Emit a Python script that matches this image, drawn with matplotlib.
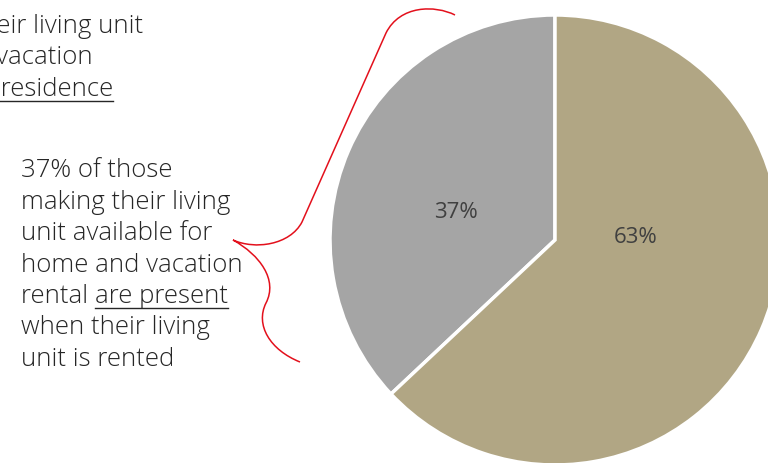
import matplotlib
matplotlib.use("Agg")
import matplotlib.pyplot as plt
from matplotlib.path import Path
from matplotlib.patches import PathPatch

# Share of hosts present / not present while their unit is rented
labels = ["37%", "63%"]
shares = [37, 63]
colors = ["#A5A5A5", "#B1A684"]

W, H = 768, 463
fig = plt.figure(figsize=(W / 100, H / 100), dpi=100)
ax = fig.add_axes([0, 0, 1, 1])

# Pie of radius 1 centred at the origin; 225 px per data unit
scale = 225.0
cx, cy = 555.0, 240.0
wedges, _ = ax.pie(shares, colors=colors, startangle=90, counterclock=True,
                   radius=1, wedgeprops=dict(edgecolor="white", linewidth=2.5))
ax.set_xlim(-cx / scale, (W - cx) / scale)
ax.set_ylim(-(H - cy) / scale, cy / scale)
ax.set_aspect("auto")
ax.axis("off")

# Percent labels inside the wedges
label_pos = [(-0.44, 0.12), (0.36, 0.01)]
for lab, (x, y) in zip(labels, label_pos):
    ax.text(x, y, lab, ha="center", va="center", fontsize=16,
            color="#404040", family="Open Sans", fontweight=400)

txt_kw = dict(fontsize=18.5, color="#262626", family="Open Sans",
              fontweight=300, va="baseline")


def px(x, y):
    return x / W, 1 - y / H


renderer = fig.canvas.get_renderer()


def underline(t, base):
    bb = t.get_window_extent(renderer)
    y = (H - base - 5) / H
    fig.add_artist(plt.Line2D([bb.x0 / W, bb.x1 / W], [y, y],
                              color="#262626", lw=1.0))


# Upper note (runs off the left edge)
fig.text(*px(143, 33), "making their living unit", ha="right", **txt_kw)
fig.text(*px(93, 64.5), "home and vacation", ha="right", **txt_kw)
t = fig.text(*px(113, 96), " residence", ha="right", **txt_kw)
fig.text(t.get_window_extent(renderer).x0 / W, 1 - 96 / H,
         "rental are absent from their", ha="right", **txt_kw)
underline(t, 96)

# Lower note
body = ["37% of those", "making their living", "unit available for",
        "home and vacation", None, "when their living", "unit is rented"]
x0, y0, dy = 21, 177, 31.5
for i, line in enumerate(body):
    if line is not None:
        fig.text(*px(x0, y0 + dy * i), line, ha="left", **txt_kw)
t1 = fig.text(*px(x0, y0 + dy * 4), "rental ", ha="left", **txt_kw)
w1 = t1.get_window_extent(renderer).width
t2 = fig.text(*px(x0 + w1, y0 + dy * 4), "are present", ha="left", **txt_kw)
underline(t2, y0 + dy * 4)

# Red curly brace linking the note to the grey wedge
pts = [(455, 15), (435, 5), (400, 5), (386, 33),
       (302, 222),
       (290, 245), (255, 250), (233, 240),
       (260, 255), (278, 280), (266, 303),
       (255, 325), (270, 350), (300, 362)]
codes = [Path.MOVETO, Path.CURVE4, Path.CURVE4, Path.CURVE4,
         Path.LINETO,
         Path.CURVE4, Path.CURVE4, Path.CURVE4,
         Path.CURVE4, Path.CURVE4, Path.CURVE4,
         Path.CURVE4, Path.CURVE4, Path.CURVE4]
brace = Path([px(x, y) for x, y in pts], codes)
fig.add_artist(PathPatch(brace, facecolor="none", edgecolor="#E3101C",
                         lw=1.1, transform=fig.transFigure))

fig.savefig("out.png", dpi=100)
